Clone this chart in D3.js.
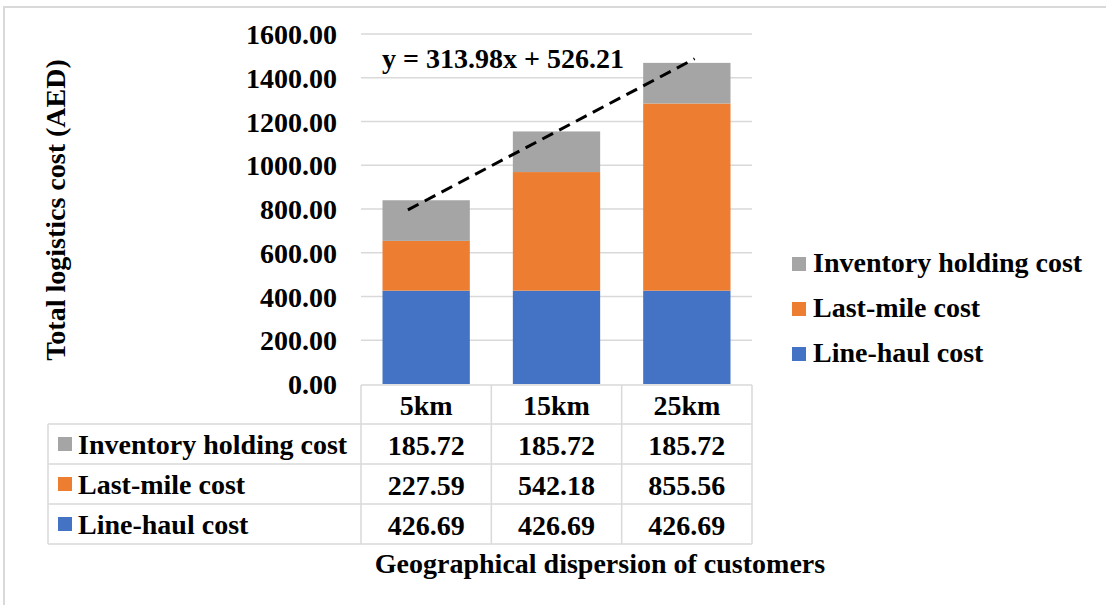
<!DOCTYPE html>
<html>
<head>
<meta charset="utf-8">
<script src="https://cdn.jsdelivr.net/npm/d3@7"></script>
<style>
  body { margin: 0; background: #fff; }
  svg text { font-family: "Liberation Serif", "Times New Roman", serif; font-weight: bold; fill: #000; }
</style>
</head>
<body>
<div id="chart"></div>
<script>
// Data
const categories = ["5km", "15km", "25km"];
const seriesNames = ["Line-haul cost", "Last-mile cost", "Inventory holding cost"];
const lineHaul = [426.69, 426.69, 426.69];
const lastMile = [227.59, 542.18, 855.56];
const inventory = [185.72, 185.72, 185.72];
const yTicks = [0, 200, 400, 600, 800, 1000, 1200, 1400, 1600];
const trendSlope = 313.98, trendIntercept = 526.21;
const trendSpan = [0.86, 3.06];
const colors = ["#4472C4", "#ED7D31", "#A5A5A5"];

const W = 1106, H = 605;
const plot = {left: 361, right: 752, top: 34, bottom: 384};
const fs = 28;

const svg = d3.select("#chart").append("svg")
  .attr("width", W).attr("height", H);

svg.append("rect").attr("width", W).attr("height", H).attr("fill", "#fff");

// outer frame of the picture
svg.append("path")
  .attr("d", `M4,${H} L4,7 L${W},7`)
  .attr("fill", "none").attr("stroke", "#d9d9d9").attr("stroke-width", 2);

const x = d3.scaleBand().domain(categories)
  .range([plot.left, plot.right])
  .paddingInner(0.33).paddingOuter(0.165);

const y = d3.scaleLinear().domain([0, 1600]).range([plot.bottom, plot.top]);

// gridlines
svg.append("g").selectAll("line")
  .data(yTicks.filter(d => d > 0))
  .join("line")
  .attr("x1", plot.left).attr("x2", plot.right)
  .attr("y1", d => y(d)).attr("y2", d => y(d))
  .attr("stroke", "#d9d9d9").attr("stroke-width", 1.5);

// y tick labels
svg.append("g").selectAll("text")
  .data(yTicks)
  .join("text")
  .attr("x", 337).attr("y", d => y(d) + 10)
  .attr("text-anchor", "end")
  .style("font-size", fs + "px")
  .text(d => d.toFixed(2));

// y axis title
svg.append("text")
  .attr("transform", `translate(65,210) rotate(-90)`)
  .attr("text-anchor", "middle")
  .style("font-size", fs + "px")
  .text("Total logistics cost (AED)");

// stacked bars
const rows = categories.map((c, i) => ({cat: c, lh: lineHaul[i], lm: lastMile[i], inv: inventory[i]}));
const stack = d3.stack().keys(["lh", "lm", "inv"])(rows);

svg.append("g").selectAll("g")
  .data(stack)
  .join("g")
  .attr("fill", (d, i) => colors[i])
  .selectAll("rect")
  .data(d => d)
  .join("rect")
  .attr("x", d => x(d.data.cat))
  .attr("width", x.bandwidth())
  .attr("y", d => y(d[1]))
  .attr("height", d => y(d[0]) - y(d[1]));

// linear trend line
const xi = d3.scaleLinear().domain([1, 3])
  .range([x(categories[0]) + x.bandwidth() / 2, x(categories[2]) + x.bandwidth() / 2]);
svg.append("line")
  .attr("x1", xi(trendSpan[0])).attr("y1", y(trendSlope * trendSpan[0] + trendIntercept))
  .attr("x2", xi(trendSpan[1])).attr("y2", y(trendSlope * trendSpan[1] + trendIntercept))
  .attr("stroke", "#000").attr("stroke-width", 3)
  .attr("stroke-dasharray", "12,7");

svg.append("text")
  .attr("x", 382).attr("y", 68)
  .style("font-size", fs + "px")
  .text(`y = ${trendSlope}x + ${trendIntercept}`);

// data table under the plot
const step = x.step();
const rowH = 40;
const headTop = 385, tableLeft = 48;
const tableRows = [
  {name: seriesNames[2], vals: inventory, color: colors[2]},
  {name: seriesNames[1], vals: lastMile, color: colors[1]},
  {name: seriesNames[0], vals: lineHaul, color: colors[0]}
];
const bodyTop = headTop + 39;
const tableBottom = bodyTop + rowH * tableRows.length;
const grid = svg.append("g").attr("stroke", "#d9d9d9").attr("stroke-width", 1.5);

// horizontal lines
grid.append("line").attr("x1", plot.left).attr("x2", plot.right).attr("y1", headTop).attr("y2", headTop);
d3.range(tableRows.length + 1).forEach(i => {
  grid.append("line").attr("x1", tableLeft).attr("x2", plot.right)
    .attr("y1", bodyTop + i * rowH).attr("y2", bodyTop + i * rowH);
});
// vertical lines
grid.append("line").attr("x1", tableLeft).attr("x2", tableLeft).attr("y1", bodyTop).attr("y2", tableBottom);
d3.range(categories.length + 1).forEach(i => {
  grid.append("line").attr("x1", plot.left + i * step).attr("x2", plot.left + i * step)
    .attr("y1", headTop).attr("y2", tableBottom);
});

// header labels
svg.append("g").selectAll("text")
  .data(categories)
  .join("text")
  .attr("x", d => x(d) + x.bandwidth() / 2)
  .attr("y", headTop + 30)
  .attr("text-anchor", "middle")
  .style("font-size", fs + "px")
  .text(d => d);

const tr = svg.append("g").selectAll("g")
  .data(tableRows)
  .join("g")
  .attr("transform", (d, i) => `translate(0,${bodyTop + i * rowH})`);

tr.append("rect")
  .attr("x", 58).attr("y", 13).attr("width", 14).attr("height", 14)
  .attr("fill", d => d.color);
tr.append("text")
  .attr("x", 78).attr("y", 30)
  .style("font-size", fs + "px")
  .text(d => d.name);
tr.selectAll("text.val")
  .data(d => d.vals)
  .join("text")
  .attr("class", "val")
  .attr("x", (d, i) => x(categories[i]) + x.bandwidth() / 2)
  .attr("y", 31)
  .attr("text-anchor", "middle")
  .style("font-size", fs + "px")
  .text(d => d.toFixed(2));

// x axis title
svg.append("text")
  .attr("x", 600).attr("y", 573)
  .attr("text-anchor", "middle")
  .style("font-size", fs + "px")
  .text("Geographical dispersion of customers");

// legend
const legend = svg.append("g").selectAll("g")
  .data(tableRows)
  .join("g")
  .attr("transform", (d, i) => `translate(792,${257 + i * 45})`);
legend.append("rect")
  .attr("width", 14).attr("height", 14)
  .attr("fill", d => d.color);
legend.append("text")
  .attr("x", 21).attr("y", 15)
  .style("font-size", fs + "px")
  .text(d => d.name);
</script>
</body>
</html>
